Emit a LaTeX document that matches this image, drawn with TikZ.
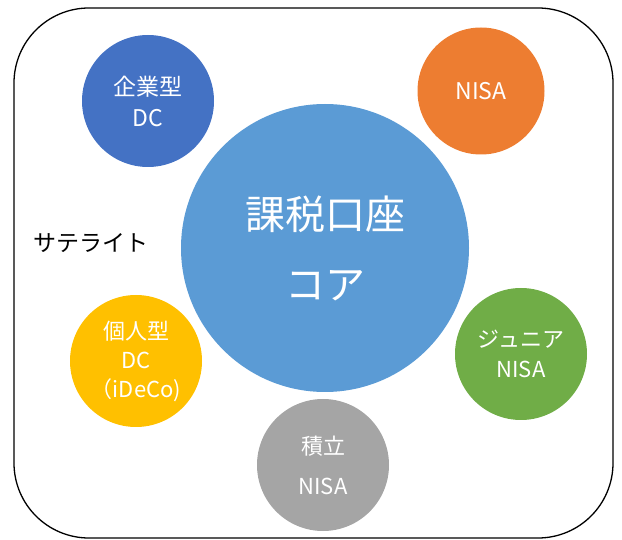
\documentclass[tikz,border=0pt]{standalone}
\usepackage{fontspec}
\setmainfont{Noto Sans CJK JP}
\definecolor{cBlue}{HTML}{4472C4}
\definecolor{cOrange}{HTML}{ED7D31}
\definecolor{cMain}{HTML}{5B9BD5}
\definecolor{cYellow}{HTML}{FFC000}
\definecolor{cGreen}{HTML}{70AD47}
\definecolor{cGray}{HTML}{A5A5A5}
\begin{document}
\begin{tikzpicture}[x=1pt,y=-1pt,
  sat/.style={circle,minimum size=132pt,inner sep=0pt,text=white,align=center,font=\fontsize{23}{31}\selectfont},
  core/.style={circle,minimum size=288pt,inner sep=0pt,text=white,align=center,font=\fontsize{40}{70}\selectfont}]
\useasboundingbox (0,0) rectangle (622,540);
\draw[line width=1.3pt,rounded corners=75pt] (14,8) rectangle (613,538);
\node[core,fill=cMain] (core) at (325,248) {課税口座\\コア};
\node[sat,fill=cBlue] (kigyo) at (148,101) {企業型\\DC};
\node[sat,fill=cOrange,minimum size=127pt] (nisa) at (481,91) {NISA};
\node[sat,fill=cYellow,font=\fontsize{22}{29}\selectfont] (kojin) at (136,361) {個人型\\DC\\（iDeCo)};
\node[sat,fill=cGreen,font=\fontsize{22}{30}\selectfont] (junior) at (521,354) {ジュニア\\NISA};
\node[sat,fill=cGray,font=\fontsize{22}{40}\selectfont] (tsumi) at (323,465) {積立\\NISA};
\node[font=\fontsize{23}{26}\selectfont] (sat) at (91,243) {サテライト};
\end{tikzpicture}
\end{document}
